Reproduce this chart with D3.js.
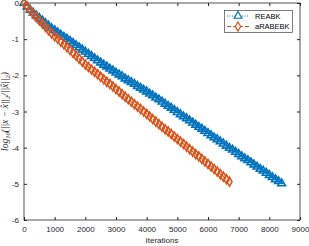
<!DOCTYPE html>
<html>
<head>
<meta charset="utf-8">
<script src="https://cdn.jsdelivr.net/npm/d3@7"></script>
<style>
  body { margin: 0; background: #fff; }
  svg { display: block; font-family: Helvetica, "Liberation Sans", Arial, sans-serif; }
  .axis text { fill: #262626; font-size: 8px; }
  .axis path, .axis line { stroke: #262626; }
</style>
</head>
<body>
<div id="chart"></div>
<script>
// one value every 100 iterations
var step = 100;
var seriesNames = ["REABK", "aRABEBK"];
var reabk = [0, -0.10, -0.19, -0.27, -0.35, -0.42, -0.49, -0.56, -0.63, -0.70,
  -0.76, -0.82, -0.88, -0.94, -0.99, -1.05, -1.11, -1.17, -1.23, -1.29,
  -1.35, -1.41, -1.47, -1.53, -1.59, -1.65, -1.71, -1.76, -1.82, -1.87,
  -1.93, -1.98, -2.03, -2.09, -2.14, -2.19, -2.24, -2.30, -2.35, -2.40,
  -2.45, -2.51, -2.56, -2.62, -2.67, -2.73, -2.79, -2.85, -2.90, -2.96,
  -3.02, -3.08, -3.14, -3.19, -3.25, -3.31, -3.37, -3.43, -3.48, -3.54,
  -3.60, -3.66, -3.72, -3.77, -3.83, -3.89, -3.95, -4.01, -4.06, -4.12,
  -4.18, -4.24, -4.30, -4.35, -4.41, -4.47, -4.53, -4.59, -4.64, -4.70,
  -4.76, -4.82, -4.88, -4.93, -4.99];
var arabebk = [0, -0.10, -0.20, -0.30, -0.39, -0.48, -0.57, -0.66, -0.75, -0.84,
  -0.92, -0.99, -1.07, -1.14, -1.22, -1.30, -1.38, -1.46, -1.54, -1.62,
  -1.70, -1.77, -1.84, -1.90, -1.97, -2.04, -2.11, -2.18, -2.24, -2.31,
  -2.38, -2.45, -2.52, -2.59, -2.66, -2.73, -2.80, -2.86, -2.93, -3.00,
  -3.07, -3.14, -3.21, -3.28, -3.35, -3.42, -3.49, -3.55, -3.62, -3.69,
  -3.76, -3.83, -3.90, -3.97, -4.04, -4.11, -4.18, -4.24, -4.31, -4.38,
  -4.45, -4.52, -4.59, -4.66, -4.73, -4.80, -4.87, -4.94];
var xTicks = [0, 1000, 2000, 3000, 4000, 5000, 6000, 7000, 8000, 9000];
var yTicks = [0, -1, -2, -3, -4, -5, -6];

var width = 309, height = 246;
var margin = {left: 24, top: 3, right: 9, bottom: 26};
var blue = "#0072BD", orange = "#D95319";

var svg = d3.select("#chart").append("svg")
    .attr("width", width)
    .attr("height", height);

var x = d3.scaleLinear().domain([0, 9000]).range([margin.left, width - margin.right]);
var y = d3.scaleLinear().domain([-6, 0]).range([height - margin.bottom, margin.top]);

// axes, ticks pointing in, box on
svg.append("g").attr("class", "axis")
    .attr("transform", "translate(0," + y(-6) + ")")
    .call(d3.axisBottom(x).tickValues(xTicks).tickSize(-3).tickPadding(6).tickFormat(d3.format("d")))
    .call(function(g) { g.select(".domain").remove(); });
svg.append("g").attr("class", "axis")
    .attr("transform", "translate(" + x(0) + ",0)")
    .call(d3.axisLeft(y).tickValues(yTicks).tickSize(-3).tickPadding(5).tickFormat(function(d) { return d === 0 ? "0" : "-" + Math.abs(d); }))
    .call(function(g) { g.select(".domain").remove(); });
svg.append("g").attr("class", "axis")
    .attr("transform", "translate(0," + y(0) + ")")
    .call(d3.axisTop(x).tickValues(xTicks).tickSize(-3).tickFormat(""))
    .call(function(g) { g.select(".domain").remove(); });
svg.append("g").attr("class", "axis")
    .attr("transform", "translate(" + x(9000) + ",0)")
    .call(d3.axisRight(y).tickValues(yTicks).tickSize(-3).tickFormat(""))
    .call(function(g) { g.select(".domain").remove(); });

svg.append("rect")
    .attr("x", x(0)).attr("y", y(0))
    .attr("width", x(9000) - x(0)).attr("height", y(-6) - y(0))
    .attr("fill", "none").attr("stroke", "#262626").attr("stroke-width", 0.8);

var line = d3.line()
    .x(function(d, i) { return x(i * step); })
    .y(function(d) { return y(d); });

var tri = d3.symbol().type(d3.symbolTriangle).size(26);
var dia = d3.symbol().type(d3.symbolDiamond).size(24);

// REABK
svg.append("path").datum(reabk)
    .attr("d", line).attr("fill", "none")
    .attr("stroke", blue).attr("stroke-width", 1.2).attr("stroke-dasharray", "1,1.5");
svg.selectAll(".tri").data(reabk).enter().append("path")
    .attr("class", "tri")
    .attr("d", tri)
    .attr("transform", function(d, i) { return "translate(" + x(i * step) + "," + y(d) + ")"; })
    .attr("fill", "none").attr("stroke", blue).attr("stroke-width", 1.6);

// aRABEBK
svg.append("path").datum(arabebk)
    .attr("d", line).attr("fill", "none")
    .attr("stroke", orange).attr("stroke-width", 1.2).attr("stroke-dasharray", "4,2");
svg.selectAll(".dia").data(arabebk).enter().append("path")
    .attr("class", "dia")
    .attr("d", dia)
    .attr("transform", function(d, i) { return "translate(" + x(i * step) + "," + y(d) + ")"; })
    .attr("fill", "none").attr("stroke", orange).attr("stroke-width", 1.5);

// axis labels
svg.append("text")
    .attr("x", (x(0) + x(9000)) / 2).attr("y", 243)
    .attr("text-anchor", "middle").attr("font-size", "8px").attr("fill", "#262626")
    .text("Iterations");

var yl = svg.append("text")
    .attr("transform", "translate(8," + ((y(0) + y(-6)) / 2) + ") rotate(-90)")
    .attr("text-anchor", "middle").attr("font-size", "9.5px").attr("fill", "#262626")
    .attr("font-family", "'Liberation Serif', 'DejaVu Serif', serif").attr("font-style", "italic");
yl.append("tspan").text("log");
yl.append("tspan").attr("font-size", "6.5px").attr("dy", 2).text("10");
yl.append("tspan").attr("dy", -2).text("(||x \u2212 x\u0302||");
yl.append("tspan").attr("font-size", "6.5px").attr("dy", 2).text("2");
yl.append("tspan").attr("dy", -2).text("/||x\u0302||");
yl.append("tspan").attr("font-size", "6.5px").attr("dy", 2).text("2");
yl.append("tspan").attr("dy", -2).text(")");

// legend
var lg = svg.append("g");
lg.append("rect")
    .attr("x", 224.5).attr("y", 10.5).attr("width", 68).attr("height", 22)
    .attr("fill", "#fff").attr("stroke", "#262626").attr("stroke-width", 0.6);
var legendItems = [
  {name: seriesNames[0], color: blue, dash: "1,1.5", sym: tri},
  {name: seriesNames[1], color: orange, dash: "4,2", sym: dia}
];
legendItems.forEach(function(it, k) {
  var ly = 16 + k * 10.5;
  lg.append("line").attr("x1", 227).attr("x2", 249).attr("y1", ly).attr("y2", ly)
    .attr("stroke", it.color).attr("stroke-width", 1.2).attr("stroke-dasharray", it.dash);
  lg.append("path").attr("d", it.sym).attr("transform", "translate(238," + ly + ")")
    .attr("fill", "#fff").attr("stroke", it.color).attr("stroke-width", 1.2);
  lg.append("text").attr("x", 255).attr("y", ly + 2.6)
    .attr("font-size", "7.5px").attr("fill", "#000").text(it.name);
});
</script>
</body>
</html>
